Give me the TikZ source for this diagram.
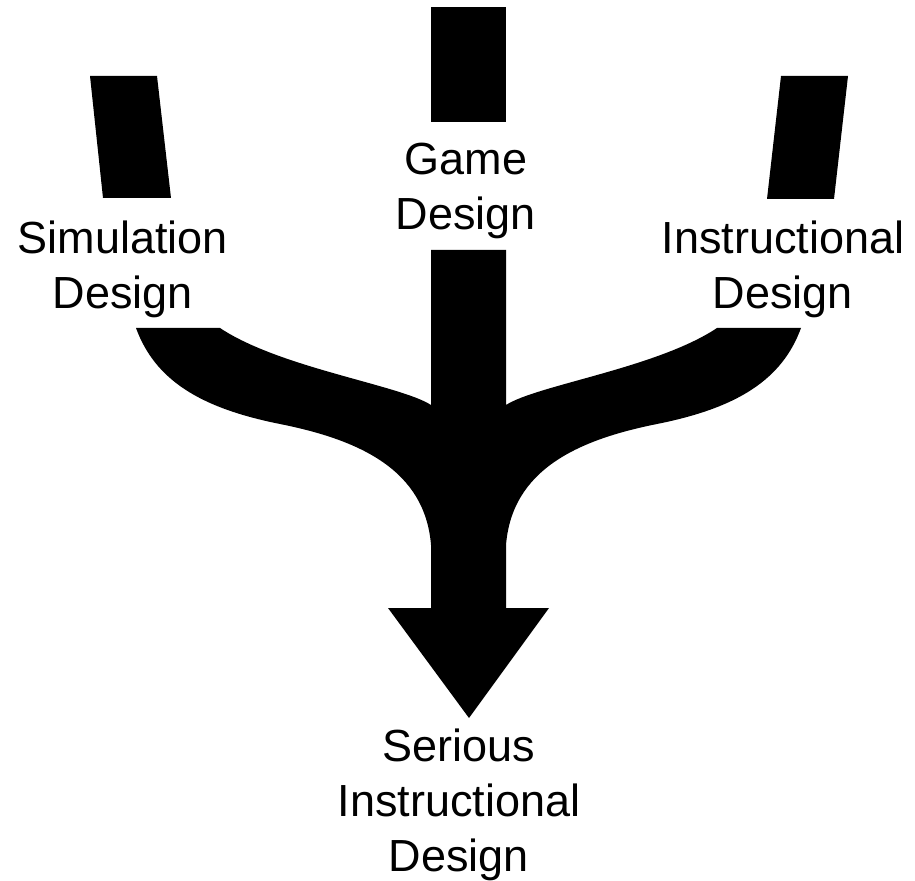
\documentclass[tikz,border=0pt]{standalone}
\usepackage{fontspec}
\setmainfont{Liberation Sans}
\begin{document}
\begin{tikzpicture}[x=0.5pt, y=-0.5pt,
  lbl/.style={anchor=north, inner sep=0pt, align=center, font=\fontsize{22.5}{27.5}\selectfont}]
  \useasboundingbox (0,0) rectangle (915,881);
  % the three incoming streams
  \fill (90,76) -- (157,76) -- (171,198) -- (103,198) -- cycle;
  \fill (431,7) rectangle (506,122);
  \fill (781,76) -- (848,76) -- (834,199) -- (767,199) -- cycle;
  % merged body and arrow head
  \fill (431,250) -- (431,405) .. controls (400,385) and (280,368) .. (220,328) -- (136,328)
    .. controls (155,380) and (200,408) .. (280,424) .. controls (360,440) and (425,470) .. (431,545)
    -- (431,608) -- (388,608) -- (469,718) -- (549,608) -- (506,608) -- (506,545)
    .. controls (512,470) and (577,440) .. (657,424) .. controls (737,408) and (782,380) .. (801,328)
    -- (717,328) .. controls (657,368) and (537,385) .. (506,405) -- (506,250) -- cycle;
  \node[lbl] (sim) at (123,220) {Simulation\\Design};
  \node[lbl] (game) at (466,143) {Game\\Design};
  \node[lbl] (instr) at (783,220) {Instructional\\Design};
  \node[lbl] (serious) at (459,728) {Serious\\Instructional\\Design};
\end{tikzpicture}
\end{document}
